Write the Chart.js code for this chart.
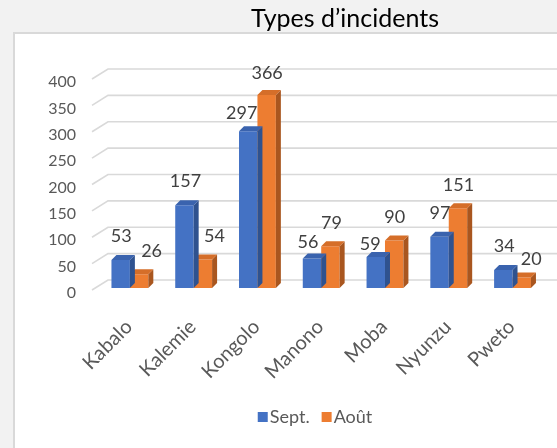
<!DOCTYPE html>
<html>
<head>
<meta charset="utf-8">
<script src="https://cdn.jsdelivr.net/npm/chart.js@4.4.1/dist/chart.umd.min.js"></script>
<style>
  html, body { margin: 0; padding: 0; background: #f2f2f2; overflow: hidden; }
</style>
</head>
<body>
<canvas id="chart" width="557" height="448"></canvas>
<script>
// Data
const categories = ["Kabalo", "Kalemie", "Kongolo", "Manono", "Moba", "Nyunzu", "Pweto"];
const septValues = [53, 157, 297, 56, 59, 97, 34];
const aoutValues = [26, 54, 366, 79, 90, 151, 20];
const seriesNames = ["Sept.", "Août"];
const titleText = "Types d’incidents";

// Excel moved some labels to avoid overlaps (pixels, per bar)
const labelNudgeX = [[0, 0.5, -7, -4.5, -6, 0, 0.5], [12, 11, 0, 0.5, 0, 0, 9]];
const labelNudgeY = [[0, 0, 5.5, 7.5, 10.5, 0, 0], [0, 0.5, 1.5, 0.5, 0, 0, 5.5]];

const FONT = "Lato";
const DEPTH_X = 5, DEPTH_Y = -5;
const faceColors = [
  { front: "#4472C4", side: "#2F528F", top: "#3A63AE" },
  { front: "#ED7D31", side: "#A9561F", top: "#D56E29" }
];

// Background, white plot box, title and legend
const framePlugin = {
  id: "frame",
  beforeDraw(chart) {
    const ctx = chart.ctx;
    ctx.save();
    ctx.fillStyle = "#f2f2f2";
    ctx.fillRect(0, 0, chart.width, chart.height);
    ctx.fillStyle = "#ffffff";
    ctx.fillRect(14, 33, chart.width + 20, chart.height + 20);
    ctx.strokeStyle = "#d9d9d9";
    ctx.lineWidth = 2;
    ctx.strokeRect(14, 33, chart.width + 20, chart.height + 20);

    ctx.fillStyle = "#000000";
    ctx.font = "25px " + FONT;
    ctx.textAlign = "center";
    ctx.textBaseline = "alphabetic";
    ctx.fillText(titleText, 345, 27);

    // legend
    ctx.font = "18px " + FONT;
    ctx.textBaseline = "middle";
    ctx.textAlign = "left";
    const ds = chart.data.datasets;
    const box = 10, gap = 2, between = 12;
    let total = 0;
    ds.forEach((d, i) => {
      total += box + gap + ctx.measureText(d.label).width + (i < ds.length - 1 ? between : 0);
    });
    let x = 315 - total / 2;
    const y = 417;
    ds.forEach(d => {
      ctx.fillStyle = d.backgroundColor;
      ctx.fillRect(x, y - box / 2, box, box);
      x += box + gap;
      ctx.fillStyle = "#595959";
      ctx.fillText(d.label, x, y);
      x += ctx.measureText(d.label).width + between;
    });
    ctx.restore();
  },
  // 3D-looking gridlines: short diagonal on the left, then the back wall
  beforeDatasetsDraw(chart) {
    const ctx = chart.ctx;
    const y = chart.scales.y;
    const left = chart.chartArea.left;
    ctx.save();
    ctx.strokeStyle = "#d9d9d9";
    ctx.lineWidth = 1.6;
    y.ticks.forEach(t => {
      const yb = y.getPixelForValue(t.value) - 8;
      ctx.beginPath();
      ctx.moveTo(left - 6, yb + 10);
      ctx.lineTo(left + 10, yb);
      ctx.lineTo(chart.width + 5, yb);
      ctx.stroke();
    });
    ctx.restore();
  },
  // side and top faces of each bar
  afterDatasetDraw(chart, args) {
    const ctx = chart.ctx;
    const c = faceColors[args.index];
    ctx.save();
    args.meta.data.forEach(bar => {
      const p = bar.getProps(["x", "y", "base", "width"], true);
      const l = p.x - p.width / 2, r = p.x + p.width / 2;
      ctx.fillStyle = c.side;
      ctx.beginPath();
      ctx.moveTo(r, p.y);
      ctx.lineTo(r + DEPTH_X, p.y + DEPTH_Y);
      ctx.lineTo(r + DEPTH_X, p.base + DEPTH_Y);
      ctx.lineTo(r, p.base);
      ctx.closePath();
      ctx.fill();
      ctx.fillStyle = c.top;
      ctx.beginPath();
      ctx.moveTo(l, p.y);
      ctx.lineTo(l + DEPTH_X, p.y + DEPTH_Y);
      ctx.lineTo(r + DEPTH_X, p.y + DEPTH_Y);
      ctx.lineTo(r, p.y);
      ctx.closePath();
      ctx.fill();
    });
    ctx.restore();
  },
  // value labels
  afterDatasetsDraw(chart) {
    const ctx = chart.ctx;
    ctx.save();
    ctx.font = "18px " + FONT;
    ctx.fillStyle = "#404040";
    ctx.textAlign = "center";
    ctx.textBaseline = "middle";
    chart.data.datasets.forEach((ds, di) => {
      chart.getDatasetMeta(di).data.forEach((bar, i) => {
        const p = bar.getProps(["x", "y"], true);
        ctx.fillText(String(ds.data[i]), p.x + 0.5 + labelNudgeX[di][i], p.y - 23.5 + labelNudgeY[di][i]);
      });
    });
    ctx.restore();
  }
};

new Chart(document.getElementById("chart"), {
  type: "bar",
  data: {
    labels: categories,
    datasets: [
      { label: seriesNames[0], data: septValues, backgroundColor: faceColors[0].front },
      { label: seriesNames[1], data: aoutValues, backgroundColor: faceColors[1].front }
    ]
  },
  options: {
    responsive: false,
    animation: false,
    layout: { padding: { left: 36, right: 7, top: 77, bottom: 60 } },
    datasets: { bar: { categoryPercentage: 0.578, barPercentage: 1, borderWidth: 0 } },
    plugins: {
      legend: { display: false },
      title: { display: false },
      tooltip: { enabled: false }
    },
    scales: {
      x: {
        grid: { display: false, drawTicks: false },
        border: { display: false },
        ticks: {
          minRotation: 45, maxRotation: 45, padding: 27, labelOffset: -1,
          color: "#595959", font: { family: FONT, size: 20 }
        },
        afterFit(s) { s.height = 100; }
      },
      y: {
        min: 0, max: 400,
        grid: { display: false, drawTicks: false },
        border: { display: false },
        ticks: {
          stepSize: 50, padding: 22, labelOffset: 5,
          color: "#595959", font: { family: FONT, size: 16 }
        },
        afterFit(s) { s.width = 62; }
      }
    }
  },
  plugins: [framePlugin]
});
</script>
</body>
</html>
